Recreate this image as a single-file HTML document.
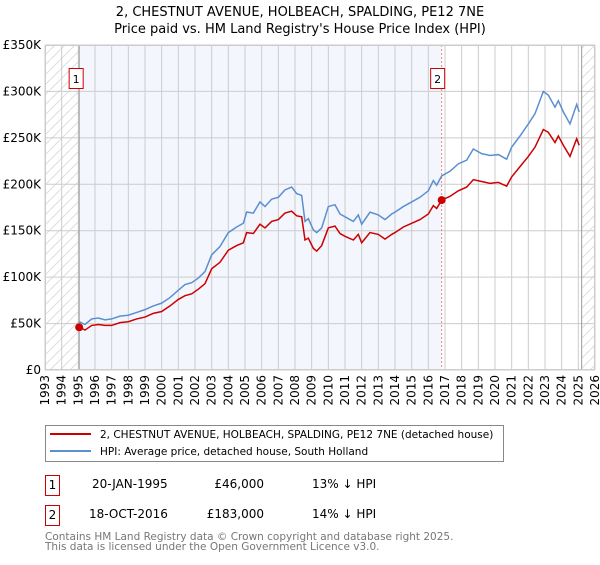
<!DOCTYPE html>
<html><head><meta charset="utf-8"><style>
body{margin:0;background:#fff;font-family:"Liberation Sans","DejaVu Sans",sans-serif;}
svg text{font-family:"DejaVu Sans","Liberation Sans",sans-serif;}
</style></head><body>
<svg id="chart" width="600" height="560" xmlns="http://www.w3.org/2000/svg">
<defs><pattern id="hatch" patternUnits="userSpaceOnUse" width="10" height="10"><path d="M0,10 L10,0" stroke="#ddd" stroke-width="1"/></pattern></defs>
<text x="300" y="16" text-anchor="middle" font-size="13">2, CHESTNUT AVENUE, HOLBEACH, SPALDING, PE12 7NE</text>
<text x="300" y="33" text-anchor="middle" font-size="13">Price paid vs. HM Land Registry's House Price Index (HPI)</text>
<g id="plot"></g>
<g>
<rect x="45.5" y="425.5" width="458" height="36" fill="#fff" stroke="#888"/>
<line x1="50" y1="434" x2="91" y2="434" stroke="#cc0000" stroke-width="2"/>
<text x="100" y="438" font-size="10.5">2, CHESTNUT AVENUE, HOLBEACH, SPALDING, PE12 7NE (detached house)</text>
<line x1="50" y1="451" x2="91" y2="451" stroke="#5b8fd0" stroke-width="2"/>
<text x="100" y="455" font-size="10.5">HPI: Average price, detached house, South Holland</text>
</g>
<g font-size="12">
<rect x="45.5" y="475.5" width="14" height="20" fill="#fff" stroke="#cc0000"/><text x="52.5" y="489" text-anchor="middle">1</text>
<text x="92" y="488">20-JAN-1995</text><text x="264" y="488" text-anchor="end">£46,000</text><text x="312" y="488">13% ↓ HPI</text>
<rect x="45.5" y="505.5" width="14" height="20" fill="#fff" stroke="#cc0000"/><text x="52.5" y="519" text-anchor="middle">2</text>
<text x="89" y="518">18-OCT-2016</text><text x="264" y="518" text-anchor="end">£183,000</text><text x="312" y="518">14% ↓ HPI</text>
</g>
<text x="45" y="540" font-size="10.5" fill="#777">Contains HM Land Registry data © Crown copyright and database right 2025.</text>
<text x="45" y="550" font-size="10.5" fill="#777">This data is licensed under the Open Government Licence v3.0.</text>
</svg>
<script>
const hpiYears=[1995.05,1995.4,1995.8,1996.2,1996.6,1997,1997.5,1998,1998.5,1999,1999.5,2000,2000.5,2001,2001.4,2001.8,2002.2,2002.6,2003,2003.5,2004,2004.5,2004.9,2005.1,2005.5,2005.9,2006.2,2006.6,2007,2007.4,2007.8,2008.1,2008.4,2008.6,2008.8,2009.1,2009.3,2009.6,2010,2010.4,2010.7,2011,2011.5,2011.8,2012,2012.5,2013,2013.4,2013.8,2014,2014.5,2015,2015.5,2016,2016.3,2016.5,2016.8,2017.3,2017.8,2018.3,2018.7,2019.2,2019.7,2020.2,2020.7,2021,2021.5,2022,2022.4,2022.9,2023.2,2023.6,2023.8,2024.1,2024.5,2024.9,2025.05];
const hpiValues=[52,49,55,56,54,55,58,59,62,65,69,72,78,86,92,94,99,106,124,133,148,154,158,170,169,181,176,184,186,194,197,190,188,160,163,151,148,153,176,178,168,165,160,167,157,170,167,162,168,170,176,181,186,193,204,199,209,214,222,226,238,233,231,232,227,240,252,265,276,300,296,283,290,278,265,286,278];
const priceValues=[46,43,48,49,48,48,51,52,55,57,61,63,69,76,80,82,87,93,109,116,129,134,137,148,147,157,153,160,162,169,171,166,165,140,142,131,128,134,153,155,147,144,140,146,137,148,146,141,146,148,154,158,162,168,177,174,183,187,193,197,205,203,201,202,198,208,219,230,240,259,256,245,252,242,230,249,242];
const saleYears=[1995.05,2016.8];
const saleValues=[46,183];
const saleLabels=["1","2"];
const yTicks=[0,50,100,150,200,250,300,350];
const yTickLabels=["£0","£50K","£100K","£150K","£200K","£250K","£300K","£350K"];
const xYears=[1993,1994,1995,1996,1997,1998,1999,2000,2001,2002,2003,2004,2005,2006,2007,2008,2009,2010,2011,2012,2013,2014,2015,2016,2017,2018,2019,2020,2021,2022,2023,2024,2025,2026];

const L=45,R=595,T=45,B=370,X0=1993,X1=2026,YMAX=350;
const xs=v=>L+(v-X0)/(X1-X0)*(R-L);
const ys=v=>B-v/YMAX*(B-T);
const NS="http://www.w3.org/2000/svg";
const g=document.getElementById('plot');
function mk(tag,attrs,parent){const e=document.createElementNS(NS,tag);for(const k in attrs)e.setAttribute(k,attrs[k]);(parent||g).appendChild(e);return e;}
let e;
e=mk('rect',{x:xs(saleYears[0]),y:T,width:xs(saleYears[1])-xs(saleYears[0]),height:B-T,fill:'#f3f6fd'});


e=mk('rect',{x:L,y:T,width:xs(saleYears[0])-L,height:B-T,fill:'url(#hatch)'});


e=mk('rect',{x:xs(2025.2),y:T,width:R-xs(2025.2),height:B-T,fill:'url(#hatch)'});


xYears.forEach(yr=>{e=mk('line',{x1:xs(yr),x2:xs(yr),y1:T,y2:B,stroke:'#ccc','stroke-width':1});


e=mk('text',{transform:`translate(${xs(yr)+4},375) rotate(-90)`,'text-anchor':'end','font-size':12});e.textContent=yr;

});
yTicks.forEach((v,i)=>{e=mk('line',{x1:L,x2:R,y1:ys(v),y2:ys(v),stroke:'#ccc','stroke-width':1});


e=mk('text',{x:41,y:ys(v)+4,'text-anchor':'end','font-size':12});e.textContent=yTickLabels[i];

});
e=mk('line',{x1:xs(saleYears[0]),x2:xs(saleYears[0]),y1:T,y2:B,stroke:'#999','stroke-width':1});


e=mk('line',{x1:xs(saleYears[1]),x2:xs(saleYears[1]),y1:T,y2:B,stroke:'#f08080','stroke-width':1,'stroke-dasharray':'2,2'});


e=mk('line',{x1:xs(2025.2),x2:xs(2025.2),y1:T,y2:B,stroke:'#999','stroke-width':1});


e=mk('rect',{x:L+0.5,y:T+0.5,width:R-L-1,height:B-T-1,fill:'none',stroke:'#ccc'});


e=mk('polyline',{points:hpiYears.map((y,i)=>xs(y)+','+ys(hpiValues[i])).join(' '),fill:'none',stroke:'#5b8fd0','stroke-width':1.5});


e=mk('polyline',{points:hpiYears.map((y,i)=>xs(y)+','+ys(priceValues[i])).join(' '),fill:'none',stroke:'#cc0000','stroke-width':1.5});


saleYears.forEach((y,i)=>{e=mk('circle',{cx:xs(y),cy:ys(saleValues[i]),r:4,fill:'#cc0000'});


const bx=xs(y)-(i==0?10:11);
e=mk('rect',{x:bx,y:68.5,width:14,height:20,fill:'#fff',stroke:'#cc0000'});


e=mk('text',{x:bx+7,y:83,'text-anchor':'middle','font-size':11});e.textContent=saleLabels[i];

});
</script>
</body></html>
